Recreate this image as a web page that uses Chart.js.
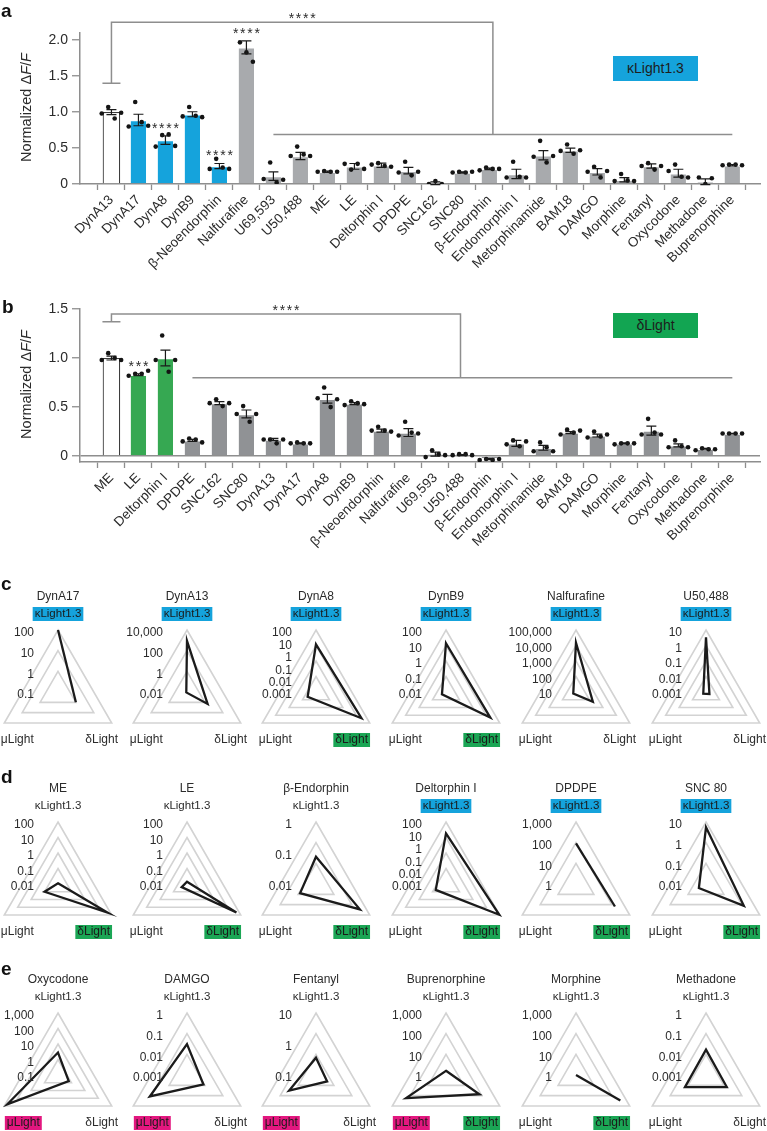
<!DOCTYPE html>
<html>
<head>
<meta charset="utf-8">
<script src="https://cdn.jsdelivr.net/npm/chart.js@4.4.1/dist/chart.umd.min.js"></script>
<style>
  html, body { margin: 0; padding: 0; background: #fff; overflow: hidden; }
  #fig { position: relative; width: 767px; height: 1131px; overflow: hidden;
         font-family: 'Liberation Sans', Arial, sans-serif; color: #2b2b2b; }
  #fig canvas { position: absolute; }
  .tag { position: absolute; font-weight: bold; font-size: 19px; line-height: 19px; color: #111; }
  .key { position: absolute; width: 85px; height: 25px; line-height: 25px; text-align: center; font-size: 14px; color: #1d1d1d; }
</style>
</head>
<body>
<div id="fig">
  <canvas id="barA" width="767" height="280" style="left:0;top:0"></canvas>
  <canvas id="barB" width="767" height="276" style="left:0;top:280px"></canvas>
  <div class="tag" style="left:1px;top:1px">a</div>
  <div class="tag" style="left:2px;top:297px">b</div>
  <div class="tag" style="left:1px;top:574px">c</div>
  <div class="tag" style="left:1px;top:767px">d</div>
  <div class="tag" style="left:1px;top:959px">e</div>
  <div class="key" style="left:613px;top:56px;background:#15a3dc">κLight1.3</div>
  <div class="key" style="left:613px;top:313px;background:#12a552">δLight</div>
</div>
<script>
const FONT = "'Liberation Sans', Arial, sans-serif";
const INK = '#2b2b2b';
const AXIS = '#8e8e8e';
const BLUE = '#15a3dc';
const GREEN = '#36a852';
const GREEN_BOX = '#1ba655';
const MAGENTA = '#e3177f';

// ---------- panel a : kLight1.3 ----------
const catsA = ['DynA13', 'DynA17', 'DynA8', 'DynB9', 'β-Neoendorphin', 'Nalfurafine', 'U69,593', 'U50,488',
  'ME', 'LE', 'Deltorphin I', 'DPDPE', 'SNC162', 'SNC80', 'β-Endorphin', 'Endomorphin I', 'Metorphinamide',
  'BAM18', 'DAMGO', 'Morphine', 'Fentanyl', 'Oxycodone', 'Methadone', 'Buprenorphine'];
const kindA = ['ref', 'k', 'k', 'k', 'k', 'g', 'g', 'g', 'g', 'g', 'g', 'g', 'g', 'g', 'g', 'g', 'g', 'g', 'g', 'g', 'g', 'g', 'g', 'g'];
const meanA = [1.00, 0.89, 0.61, 0.97, 0.25, 1.90, 0.11, 0.39, 0.17, 0.245, 0.26, 0.185, 0.01, 0.16, 0.21,
  0.14, 0.40, 0.47, 0.17, 0.06, 0.25, 0.15, 0.03, 0.26];
const semA = [0.035, 0.08, 0.06, 0.035, 0.035, 0.09, 0.06, 0.05, 0.01, 0.04, 0.03, 0.045, 0.02, 0.01, 0.01,
  0.065, 0.065, 0.03, 0.045, 0.03, 0.03, 0.055, 0.04, 0.01];
const ptsA = [
  [0.98, 1.07, 0.91, 0.99], [0.80, 1.14, 0.86, 0.81], [0.52, 0.68, 0.69, 0.53], [0.94, 1.07, 0.95, 0.93],
  [0.21, 0.35, 0.23, 0.21], [1.97, 1.83, 1.70], [0.07, 0.30, 0.02, 0.06], [0.39, 0.52, 0.41, 0.39],
  [0.17, 0.18, 0.17, 0.17], [0.28, 0.20, 0.28, 0.21], [0.27, 0.29, 0.25, 0.24], [0.16, 0.31, 0.12, 0.17],
  [0.00, 0.04, 0.00], [0.16, 0.17, 0.16, 0.17], [0.19, 0.23, 0.21, 0.21], [0.09, 0.31, 0.10, 0.09],
  [0.38, 0.60, 0.30, 0.39], [0.46, 0.55, 0.42, 0.47], [0.17, 0.24, 0.09, 0.18], [0.04, 0.14, 0.05, 0.04],
  [0.25, 0.29, 0.20, 0.25], [0.18, 0.27, 0.10, 0.09], [0.09, 0.00, 0.08], [0.26, 0.27, 0.27, 0.26]];
const starsA = { 2: '****', 4: '****', 5: '****' };
const yTicksA = [0, 0.5, 1, 1.5, 2];

// ---------- panel b : dLight ----------
const catsB = ['ME', 'LE', 'Deltorphin I', 'DPDPE', 'SNC162', 'SNC80', 'DynA13', 'DynA17', 'DynA8', 'DynB9',
  'β-Neoendorphin', 'Nalfurafine', 'U69,593', 'U50,488', 'β-Endorphin', 'Endomorphin I', 'Metorphinamide',
  'BAM18', 'DAMGO', 'Morphine', 'Fentanyl', 'Oxycodone', 'Methadone', 'Buprenorphine'];
const kindB = ['ref', 'd', 'd', 'g', 'g', 'g', 'g', 'g', 'g', 'g', 'g', 'g', 'g', 'g', 'g', 'g', 'g', 'g', 'g', 'g', 'g', 'g', 'g', 'g'];
const meanB = [1.00, 0.83, 1.00, 0.16, 0.54, 0.43, 0.17, 0.13, 0.585, 0.535, 0.26, 0.24, 0.02, 0.01, -0.03,
  0.13, 0.085, 0.24, 0.21, 0.13, 0.26, 0.11, 0.075, 0.23];
const semB = [0.02, 0.01, 0.08, 0.01, 0.015, 0.04, 0.01, 0.005, 0.045, 0.01, 0.015, 0.04, 0.02, 0.005, 0.005,
  0.03, 0.025, 0.01, 0.015, 0.005, 0.045, 0.015, 0.005, 0.003];
const ptsB = [
  [0.98, 1.05, 1.00, 0.98], [0.82, 0.84, 0.84, 0.87], [0.98, 1.23, 0.86, 0.98], [0.15, 0.18, 0.17, 0.14],
  [0.54, 0.58, 0.51, 0.54], [0.43, 0.51, 0.35, 0.43], [0.17, 0.17, 0.13, 0.17], [0.13, 0.14, 0.13, 0.13],
  [0.59, 0.70, 0.50, 0.58], [0.52, 0.56, 0.54, 0.53], [0.26, 0.30, 0.26, 0.25], [0.21, 0.35, 0.24, 0.23],
  [-0.01, 0.06, 0.02, 0.01], [0.01, 0.02, 0.02, 0.01], [-0.04, -0.03, -0.04, -0.03], [0.12, 0.16, 0.10, 0.15],
  [0.05, 0.14, 0.09, 0.05], [0.22, 0.27, 0.24, 0.26], [0.19, 0.25, 0.20, 0.22], [0.12, 0.13, 0.13, 0.13],
  [0.22, 0.38, 0.24, 0.22], [0.09, 0.16, 0.10, 0.09], [0.06, 0.08, 0.07, 0.07], [0.23, 0.23, 0.23, 0.23]];
const starsB = { 1: '***' };
const yTicksB = [0, 0.5, 1, 1.5];

// ---------- panels c-e : sensor selectivity (log scale) ----------
const radarNames = ['DynA17', 'DynA13', 'DynA8', 'DynB9', 'Nalfurafine', 'U50,488',
  'ME', 'LE', 'β-Endorphin', 'Deltorphin I', 'DPDPE', 'SNC 80',
  'Oxycodone', 'DAMGO', 'Fentanyl', 'Buprenorphine', 'Morphine', 'Methadone'];
const radarTicks = [
  [0.1, 1, 10, 100], [0.01, 1, 100, 10000], [0.001, 0.01, 0.1, 1, 10, 100], [0.01, 0.1, 1, 10, 100],
  [10, 100, 1000, 10000, 100000], [0.001, 0.01, 0.1, 1, 10],
  [0.01, 0.1, 1, 10, 100], [0.01, 0.1, 1, 10, 100], [0.01, 0.1, 1], [0.001, 0.01, 0.1, 1, 10, 100],
  [1, 10, 100, 1000], [0.01, 0.1, 1, 10],
  [0.1, 1, 10, 100, 1000], [0.001, 0.01, 0.1, 1], [0.1, 1, 10], [1, 10, 100, 1000], [1, 10, 100, 1000],
  [0.001, 0.01, 0.1, 1]];
const kappaVals = [100, 900, 7, 14, 15000, 3.4, 0.011, 0.014, 0.076, 12, 93, 5.5, 2.8, 0.031, 0.36, 1.6, 1, 0.017];
const deltaVals = [1, 2, 17, 20, 180, 0.0018, 48, 48, 0.43, 90, 150, 1.3, 0.63, 0.0083, 0.26, 73, 300, 0.0145];
const muVals = [null, 0.012, 0.006, 0.02, 16, 0.0016, 0.1, 0.025, 0.039, 0.009, null, 0.025, 600, 0.12, 1.0, 170, null, 0.015];
const radarMarks = ['k', 'k', 'kd', 'kd', 'k', 'k', 'd', 'd', 'd', 'kd', 'kd', 'kd', 'm', 'm', 'm', 'md', 'd', ''];

// ---------- bar charts ----------
// spaced asterisks, centred on x
function stars(ctx, s, x, y) {
  const gap = 7.2;
  [...s].forEach((c, k) => ctx.fillText(c, x + (k - (s.length - 1) / 2) * gap, y));
}

const annotate = {
  id: 'annotate',
  afterDatasetsDraw(chart, args, o) {
    const { ctx, chartArea, scales: { x, y } } = chart;
    const X = v => x.getPixelForValue(v), Y = v => y.getPixelForValue(v);
    ctx.save();
    // error bars (mean +/- s.e.m.)
    ctx.strokeStyle = '#1a1a1a';
    ctx.lineWidth = 1.2;
    ctx.beginPath();
    o.mean.forEach((m, i) => {
      const px = X(i), t = Y(m + o.sem[i]), b = Y(m - o.sem[i]);
      ctx.moveTo(px, t); ctx.lineTo(px, b);
      ctx.moveTo(px - 5, t); ctx.lineTo(px + 5, t);
      ctx.moveTo(px - 5, b); ctx.lineTo(px + 5, b);
    });
    ctx.stroke();
    // comparison bracket
    const br = o.bracket;
    ctx.strokeStyle = AXIS;
    ctx.lineWidth = 1.5;
    ctx.beginPath();
    ctx.moveTo(X(br.left) - 9, Y(br.leftEnd)); ctx.lineTo(X(br.left) + 9, Y(br.leftEnd));
    ctx.moveTo(X(br.left), Y(br.leftEnd)); ctx.lineTo(X(br.left), Y(br.top));
    ctx.lineTo(X(br.right), Y(br.top)); ctx.lineTo(X(br.right), Y(br.rightEnd));
    ctx.moveTo(X(br.from), Y(br.rightEnd)); ctx.lineTo(X(br.to), Y(br.rightEnd));
    ctx.stroke();
    ctx.fillStyle = INK;
    ctx.font = `14px ${FONT}`;
    ctx.textAlign = 'center';
    ctx.textBaseline = 'middle';
    stars(ctx, '****', X((br.left + br.right) / 2), Y(br.top) - 3);
    Object.entries(o.stars).forEach(([i, s]) => {
      i = +i;
      stars(ctx, s, X(i), Y(o.mean[i] + o.sem[i]) - 7);
    });
    // y-axis title with italic F
    const parts = [['Normalized Δ', ''], ['F', 'italic '], ['/', ''], ['F', 'italic ']];
    let total = 0;
    parts.forEach(p => { ctx.font = `${p[1]}14.5px ${FONT}`; total += ctx.measureText(p[0]).width; });
    ctx.translate(27, (chartArea.top + chartArea.bottom) / 2 - 1);
    ctx.rotate(-Math.PI / 2);
    ctx.textAlign = 'left';
    let cur = -total / 2;
    parts.forEach(p => {
      ctx.font = `${p[1]}14.5px ${FONT}`;
      ctx.fillText(p[0], cur, 0);
      cur += ctx.measureText(p[0]).width;
    });
    ctx.restore();
  }
};

function makeBars(id, cats, kinds, mean, sem, pts, stars, yTicks, yMin, yMax, grey, padTop, xHeight, bracket, zeroLine) {
  const fill = { ref: '#ffffff', k: BLUE, d: GREEN, g: grey };
  const dots = [];
  pts.forEach((arr, i) => arr.forEach((v, j) => dots.push({ x: i + (j - (arr.length - 1) / 2) * 0.24, y: v })));
  new Chart(document.getElementById(id), {
    type: 'bar',
    data: {
      datasets: [
        {
          type: 'bar', order: 2,
          data: mean.map((v, i) => ({ x: i, y: v })),
          backgroundColor: kinds.map(k => fill[k]),
          borderColor: kinds.map(k => k === 'ref' ? '#3a3a3a' : 'rgba(0,0,0,0)'),
          borderWidth: 1.2,
          barPercentage: 0.65, categoryPercentage: 1
        },
        {
          type: 'scatter', order: 1,
          data: dots,
          pointRadius: 2.3, pointBackgroundColor: '#141414', pointBorderWidth: 0
        }
      ]
    },
    options: {
      responsive: false, animation: false, devicePixelRatio: 1,
      layout: { padding: { top: padTop, left: 0, right: 7, bottom: 0 } },
      plugins: {
        legend: { display: false }, tooltip: { enabled: false },
        annotate: { mean, sem, stars, bracket }
      },
      scales: {
        x: {
          type: 'linear', min: -0.64, max: 23.5,
          afterBuildTicks: s => { s.ticks = cats.map((c, i) => ({ value: i })); },
          afterFit: s => { s.height = xHeight; },
          ticks: {
            autoSkip: false, minRotation: 45, maxRotation: 45, padding: 2,
            color: INK, font: { family: FONT, size: 13.5 },
            callback: v => cats[v]
          },
          grid: { drawOnChartArea: false, tickLength: 6, tickColor: AXIS, tickWidth: 1.3 },
          border: { color: AXIS, width: 1.5 }
        },
        y: {
          min: yMin, max: yMax,
          afterBuildTicks: s => { s.ticks = yTicks.map(v => ({ value: v })); },
          afterFit: s => { s.width = 80; },
          ticks: {
            padding: 4, color: INK, font: { family: FONT, size: 14 },
            callback: v => v === 0 ? '0' : v.toFixed(1)
          },
          grid: {
            drawOnChartArea: zeroLine,
            color: c => (c.tick && c.tick.value === 0) ? AXIS : 'rgba(0,0,0,0)',
            lineWidth: 1.5, tickLength: 8, tickColor: AXIS, tickWidth: 1.3
          },
          border: { color: AXIS, width: 1.5 }
        }
      }
    },
    plugins: [annotate]
  });
}

makeBars('barA', catsA, kindA, meanA, semA, ptsA, starsA, yTicksA, 0, 2.1, '#a8aaad', 33, 96,
  { left: 0, right: 14.13, top: 2.25, leftEnd: 1.40, rightEnd: 0.69, from: 6, to: 23 }, false);
makeBars('barB', catsB, kindB, meanB, semB, ptsB, starsB, yTicksB, -0.06, 1.5, '#909295', 29, 94,
  { left: 0, right: 12.93, top: 1.45, leftEnd: 1.37, rightEnd: 0.80, from: 3, to: 23 }, true);

// ---------- triangle (radar) charts ----------
const fmtTick = t => t >= 1 ? t.toLocaleString('en-US') : String(t);

const radarText = {
  id: 'radarText',
  afterDraw(chart, args, o) {
    const s = chart.scales.r, ctx = chart.ctx;
    const R = s.drawingArea, cx = s.xCenter, cy = s.yCenter;
    const labels = chart.data.labels;
    const lab = (text, x, y, bg, size) => {
      ctx.font = `${size}px ${FONT}`;
      if (bg) {
        const w = ctx.measureText(text).width + 4;
        ctx.fillStyle = bg;
        ctx.fillRect(x - w / 2, y - 7, w, 14);
      }
      ctx.fillStyle = bg ? '#1a1a1a' : INK;
      ctx.fillText(text, x, y);
    };
    ctx.save();
    ctx.textAlign = 'center';
    ctx.textBaseline = 'middle';
    const pk = s.getPointPosition(0, R), pd = s.getPointPosition(1, R), pm = s.getPointPosition(2, R);
    lab(o.title, pk.x, pk.y - 33, null, 12);
    lab(labels[0], pk.x, pk.y - 16, o.marks.includes('k') ? BLUE : null, 11.5);
    const hd = o.marks.includes('d'), hm = o.marks.includes('m');
    lab(labels[1], pd.x - (hd ? 18 : 10), pd.y + 17, hd ? GREEN_BOX : null, 12);
    lab(labels[2], pm.x + (hm ? 19 : 13), pm.y + 17, hm ? MAGENTA : null, 12);
    ctx.textAlign = 'right';
    ctx.font = `12px ${FONT}`;
    ctx.fillStyle = INK;
    o.ticks.forEach(t => {
      const d = s.getDistanceFromCenterForValue((Math.log10(t) - o.lo) / (o.hi - o.lo) * o.levels);
      ctx.fillText(fmtTick(t), cx - 24, cy - d + 3);
    });
    ctx.restore();
  }
};

const colX = [58, 187, 316, 446, 576, 706];
const rowY = [692, 884, 1075];
const fig = document.getElementById('fig');

radarNames.forEach((name, k) => {
  const cx = colX[k % 6], cy = rowY[Math.floor(k / 6)];
  const cv = document.createElement('canvas');
  cv.width = 150; cv.height = 175;
  cv.style.left = (cx - 75) + 'px';
  cv.style.top = (cy - 107) + 'px';
  fig.appendChild(cv);
  const ticks = radarTicks[k];
  const lo = Math.log10(ticks[0]), hi = Math.log10(ticks[ticks.length - 1]);
  const levels = ticks.length >= 5 ? 4 : 3;
  const toR = v => v == null ? null : Math.max(0, (Math.log10(v) - lo) / (hi - lo) * levels);
  new Chart(cv, {
    type: 'radar',
    data: {
      labels: ['κLight1.3', 'δLight', 'μLight'],
      datasets: [{
        data: [toR(kappaVals[k]), toR(deltaVals[k]), toR(muVals[k])],
        borderColor: '#1b1b1b', borderWidth: 2.3, backgroundColor: 'rgba(0,0,0,0)',
        pointRadius: 0, fill: false, spanGaps: false
      }]
    },
    options: {
      responsive: false, animation: false, devicePixelRatio: 1,
      layout: { padding: { left: 13, right: 13, top: 45, bottom: 6 } },
      plugins: {
        legend: { display: false }, tooltip: { enabled: false },
        radarText: { title: name, ticks, lo, hi, levels, marks: radarMarks[k] }
      },
      scales: {
        r: {
          min: 0, max: levels,
          ticks: { display: false, stepSize: 1 },
          grid: { color: '#d3d3d3', lineWidth: 1.6 },
          angleLines: { display: false },
          pointLabels: { display: false }
        }
      }
    },
    plugins: [radarText]
  });
});
</script>
</body>
</html>
